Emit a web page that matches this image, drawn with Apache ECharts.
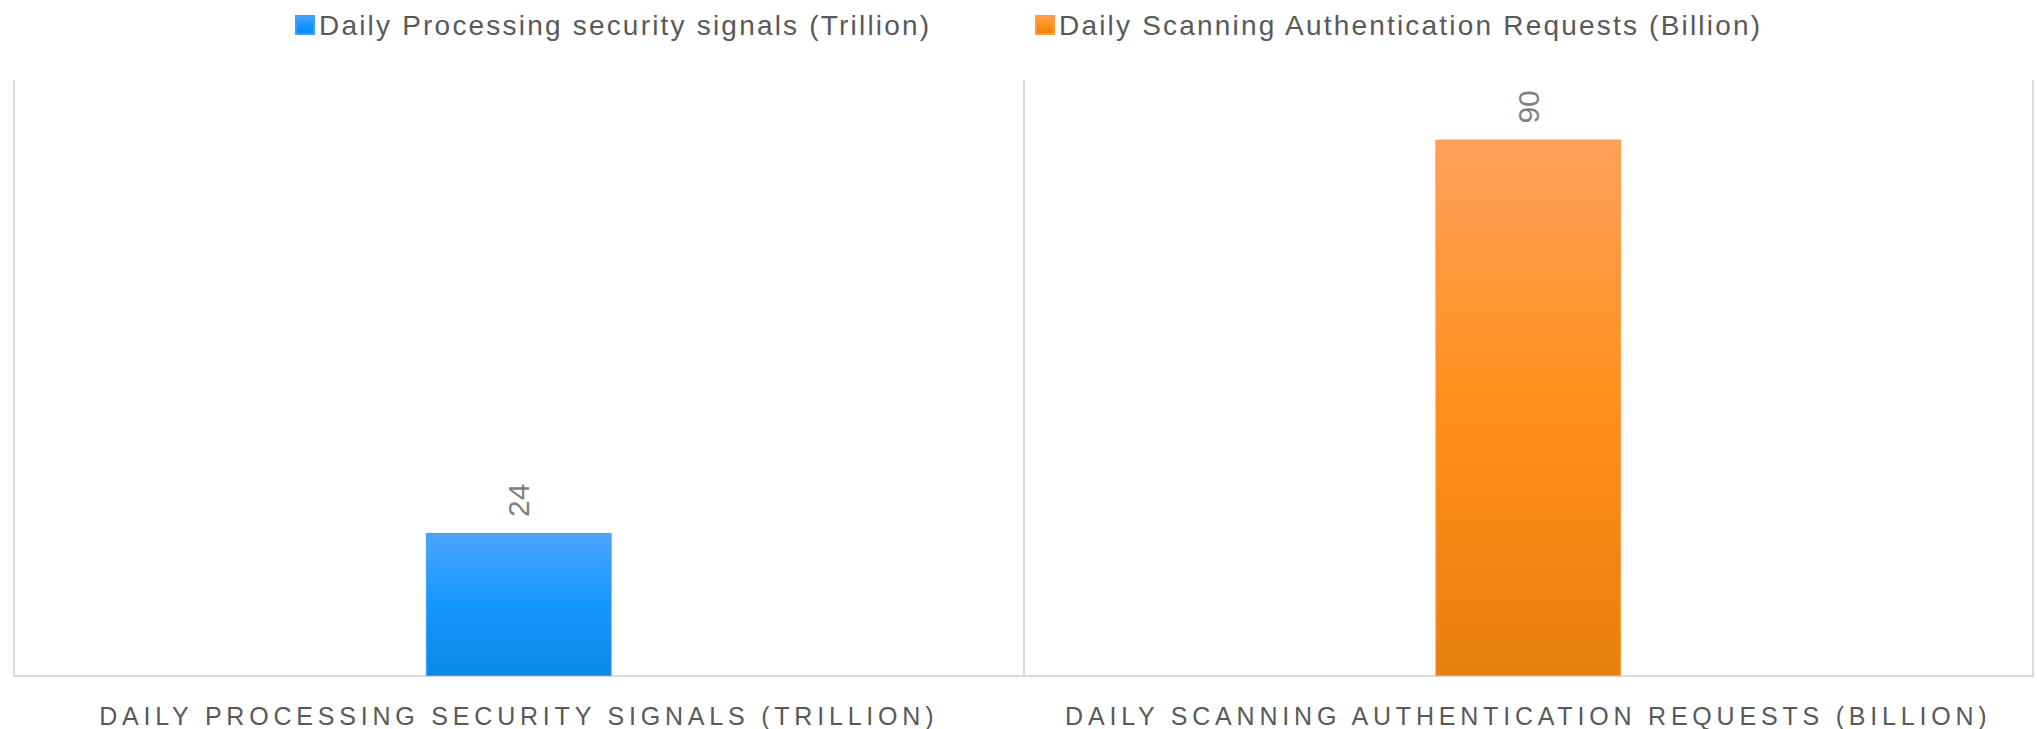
<!DOCTYPE html>
<html>
<head>
<meta charset="utf-8">
<script src="https://cdn.jsdelivr.net/npm/echarts@6/dist/echarts.min.js"></script>
<style>
  html, body { margin: 0; padding: 0; background: #ffffff; }
  #chart { width: 2037px; height: 729px; }
  text[style*="xaxislbl"] { letter-spacing: 4.8px; }
  text[style*="legendlbl"] { letter-spacing: 2.2px; }
</style>
</head>
<body>
<div id="chart"></div>
<script>
const categories = [
  'Daily Processing security signals (Trillion)',
  'Daily Scanning Authentication Requests (Billion)'
];
const seriesNames = [
  'Daily Processing security signals (Trillion)',
  'Daily Scanning Authentication Requests (Billion)'
];
const signalsValues = [24, '-'];
const requestsValues = ['-', 90];

const chart = echarts.init(document.getElementById('chart'), null, { renderer: 'svg' });

function grad(c0, c1, c2) {
  return new echarts.graphic.LinearGradient(0, 0, 0, 1, [
    { offset: 0, color: c0 },
    { offset: 0.5, color: c1 },
    { offset: 1, color: c2 }
  ]);
}

const legendText = {
  fontFamily: "'Liberation Sans', legendlbl",
  fontSize: 28,
  color: '#595959'
};

const labelStyle = {
  show: true,
  position: 'top',
  rotate: 90,
  align: 'left',
  verticalAlign: 'middle',
  distance: 16,
  fontFamily: "'Liberation Sans'",
  fontSize: 30,
  color: '#7f7f7f'
};

chart.setOption({
  animation: false,
  backgroundColor: '#ffffff',
  legend: [
    {
      data: [seriesNames[0]],
      left: 290, top: 6,
      itemWidth: 18, itemHeight: 18,
      icon: 'rect',
      textStyle: legendText
    },
    {
      data: [seriesNames[1]],
      left: 1030, top: 6,
      itemWidth: 18, itemHeight: 18,
      icon: 'rect',
      textStyle: legendText
    }
  ],
  grid: { left: 14, right: 4, top: 80, bottom: 53, containLabel: false },
  xAxis: {
    type: 'category',
    data: categories,
    axisLine: { show: true, lineStyle: { color: '#d9d9d9', width: 2 } },
    axisTick: { show: false },
    splitLine: { show: true, lineStyle: { color: '#d9d9d9', width: 2 } },
    axisLabel: {
      formatter: function (v) { return v.toUpperCase(); },
      fontFamily: "'Liberation Sans', xaxislbl",
      fontSize: 25,
      color: '#595959',
      margin: 27
    }
  },
  yAxis: {
    type: 'value',
    min: 0,
    max: 100,
    show: false,
    splitLine: { show: false }
  },
  series: [
    {
      name: seriesNames[0],
      type: 'bar',
      data: signalsValues,
      barWidth: '18.4%',
      barGap: '-100%',
      itemStyle: {
        color: grad('#4ba5ff', '#1597ff', '#0a89e6'),
        borderColor: '#3d9ef5',
        borderWidth: 1
      },
      label: labelStyle
    },
    {
      name: seriesNames[1],
      type: 'bar',
      data: requestsValues,
      barWidth: '18.4%',
      barGap: '-100%',
      itemStyle: {
        color: grad('#ffa05a', '#ff9019', '#e6800a'),
        borderColor: '#ff9a45',
        borderWidth: 1
      },
      label: labelStyle
    }
  ]
});
</script>
</body>
</html>
